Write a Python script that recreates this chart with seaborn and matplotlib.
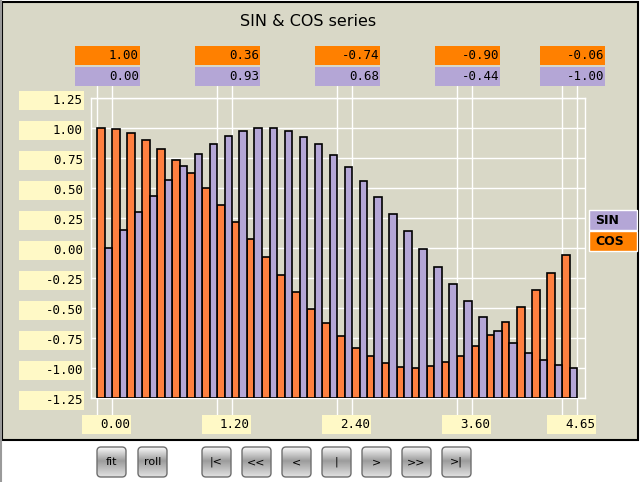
import numpy as np
import pandas as pd
import matplotlib
matplotlib.use("Agg")
import matplotlib.pyplot as plt
from matplotlib.patches import Rectangle, FancyBboxPatch
import seaborn as sns

# data
x_labels = ["0.00", "0.15", "0.30", "0.45", "0.60", "0.75", "0.90", "1.05",
            "1.20", "1.35", "1.50", "1.65", "1.80", "1.95", "2.10", "2.25",
            "2.40", "2.55", "2.70", "2.85", "3.00", "3.15", "3.30", "3.45",
            "3.60", "3.75", "3.90", "4.05", "4.20", "4.35", "4.50", "4.65"]
cos_vals = [1.000, 0.989, 0.955, 0.900, 0.825, 0.732, 0.622, 0.498,
            0.362, 0.219, 0.071, -0.079, -0.227, -0.370, -0.505, -0.628,
            -0.737, -0.830, -0.904, -0.958, -0.990, -1.000, -0.987, -0.952,
            -0.897, -0.820, -0.726, -0.615, -0.490, -0.354, -0.211, -0.062]
sin_vals = [0.000, 0.149, 0.296, 0.435, 0.565, 0.682, 0.783, 0.867,
            0.932, 0.976, 0.997, 0.997, 0.974, 0.929, 0.863, 0.778,
            0.675, 0.558, 0.427, 0.287, 0.141, -0.008, -0.158, -0.304,
            -0.443, -0.572, -0.688, -0.788, -0.872, -0.935, -0.978, -0.998]
marked_idx = [0, 8, 16, 24, 31]
y_ticks = [1.25, 1.00, 0.75, 0.50, 0.25, 0.00, -0.25, -0.50, -0.75, -1.00, -1.25]
y_tick_labels = ["1.25", "1.00", "0.75", "0.50", "0.25", "0.00",
                 "-0.25", "-0.50", "-0.75", "-1.00", "-1.25"]
buttons = ["fit", "roll", "|<", "<<", "<", "|", ">", ">>", ">|"]
button_left = [97, 138, 202, 242, 282, 322, 362, 402, 442]

BG = "#D9D8C7"
ORANGE_BAR = "#FF8040"
ORANGE_BOX = "#FF8000"
PURPLE = "#B4A6D6"
YELLOW = "#FFF9C6"
MONO = "DejaVu Sans Mono"

sns.set_style("white")
plt.rcParams["font.family"] = ["DejaVu Sans"]
plt.rcParams["text.color"] = "black"

df = pd.DataFrame({
    "x": x_labels * 2,
    "value": cos_vals + sin_vals,
    "series": ["COS"] * len(x_labels) + ["SIN"] * len(x_labels),
})

fig = plt.figure(figsize=(6.44, 4.82), dpi=100, facecolor="white")

# background panel, pixel coords
bg = fig.add_axes([0, 0, 1, 1], zorder=-1)
bg.set_xlim(0, 644)
bg.set_ylim(482, 0)
bg.axis("off")
bg.add_patch(Rectangle((2, 2), 636, 438, facecolor=BG, edgecolor="black", lw=1.5))
bg.plot([0.5, 0.5], [0, 482], color="#9A9A9A", lw=1.5)
bg.text(308, 22, "SIN & COS series", ha="center", va="center", fontsize=11.5,
        color="black")

# legend
for lab, col, y0 in [("SIN", PURPLE, 210), ("COS", ORANGE_BOX, 231)]:
    bg.add_patch(Rectangle((589, y0), 48, 20, facecolor=col, edgecolor="white", lw=1))
    bg.text(595, y0 + 10.5, lab, ha="left", va="center", fontsize=9,
            fontweight="bold", color="black")

# buttons
grad = np.concatenate([np.linspace(0.97, 0.62, 14), np.linspace(0.62, 0.88, 16)])[:, None]
for lab, x0 in zip(buttons, button_left):
    box = FancyBboxPatch((x0, 447), 29, 30, boxstyle="round,pad=0,rounding_size=4",
                         facecolor="none", edgecolor="#6E6E6E", lw=1)
    bg.add_patch(box)
    im = bg.imshow(grad, cmap="gray", vmin=0, vmax=1, aspect="auto",
                   extent=(x0, x0 + 29, 477, 447), interpolation="bilinear")
    im.set_clip_path(box)
    bg.text(x0 + 14.5, 462, lab, ha="center", va="center", fontsize=8, color="black")
bg.set_xlim(0, 644)
bg.set_ylim(482, 0)

# main plot
ax = fig.add_axes([91 / 644, (482 - 398) / 482, 494 / 644, 300 / 482])
ax.set_facecolor(BG)
sns.barplot(data=df, x="x", y="value", hue="series", hue_order=["COS", "SIN"],
            order=x_labels, palette=[ORANGE_BAR, PURPLE], saturation=1,
            width=1.0, edgecolor="black", linewidth=1.2, legend=False, ax=ax,
            zorder=3)

# bars start at the bottom of the axis
for p in ax.patches:
    top = p.get_y() + p.get_height()
    p.set_y(-1.25)
    p.set_height(top + 1.25)


def px(p):
    return (p - 97) / 15.0 - 0.5


def py(p):
    return 1.25 - (p - 98) / 120.0


ax.set_xlim(px(91), px(585))
ax.set_ylim(-1.25, 1.25)
ax.set_yticks(y_ticks)
ax.set_xticks([])
ax.tick_params(length=0, labelleft=False, labelbottom=False)
ax.set_xlabel("")
ax.set_ylabel("")
ax.yaxis.grid(True, color="white", lw=1)
ax.set_axisbelow(True)
for s in ax.spines.values():
    s.set_color("white")
    s.set_linewidth(1)

# vertical marker lines around labelled groups
for k in marked_idx:
    for xv in (k - 0.5, k + 0.5):
        ax.plot([xv, xv], [py(86), py(415)], color="white", lw=1,
                clip_on=False, zorder=1)

# y tick boxes
for v, lab in zip(y_ticks, y_tick_labels):
    gy = 98 + (1.25 - v) * 120
    ax.add_patch(Rectangle((px(19), py(gy + 12)), 65 / 15, 19 / 120,
                           facecolor=YELLOW, edgecolor="none", clip_on=False))
    ax.text(px(83), py(gy + 2.5), lab, ha="right", va="center",
            family=MONO, fontsize=9, color="black", clip_on=False)

# x tick boxes and value boxes
for k in marked_idx:
    right = k + 0.5 + 19 / 15
    ax.add_patch(Rectangle((right - 49 / 15, py(434)), 49 / 15, 19 / 120,
                           facecolor=YELLOW, edgecolor="none", clip_on=False))
    ax.text(right - 1 / 15, py(425), x_labels[k], ha="right", va="center",
            family=MONO, fontsize=9, color="black", clip_on=False)

    right = k + 0.5 + 28 / 15
    for val, col, y0 in [(cos_vals[k], ORANGE_BOX, 46), (sin_vals[k], PURPLE, 67)]:
        ax.add_patch(Rectangle((right - 65 / 15, py(y0 + 19)), 65 / 15, 19 / 120,
                               facecolor=col, edgecolor="none", clip_on=False))
        ax.text(right - 1 / 15, py(y0 + 9.5), f"{val:.2f}", ha="right",
                va="center", family=MONO, fontsize=9, color="black",
                clip_on=False)

plt.savefig("out.png", dpi=100, facecolor="white")
